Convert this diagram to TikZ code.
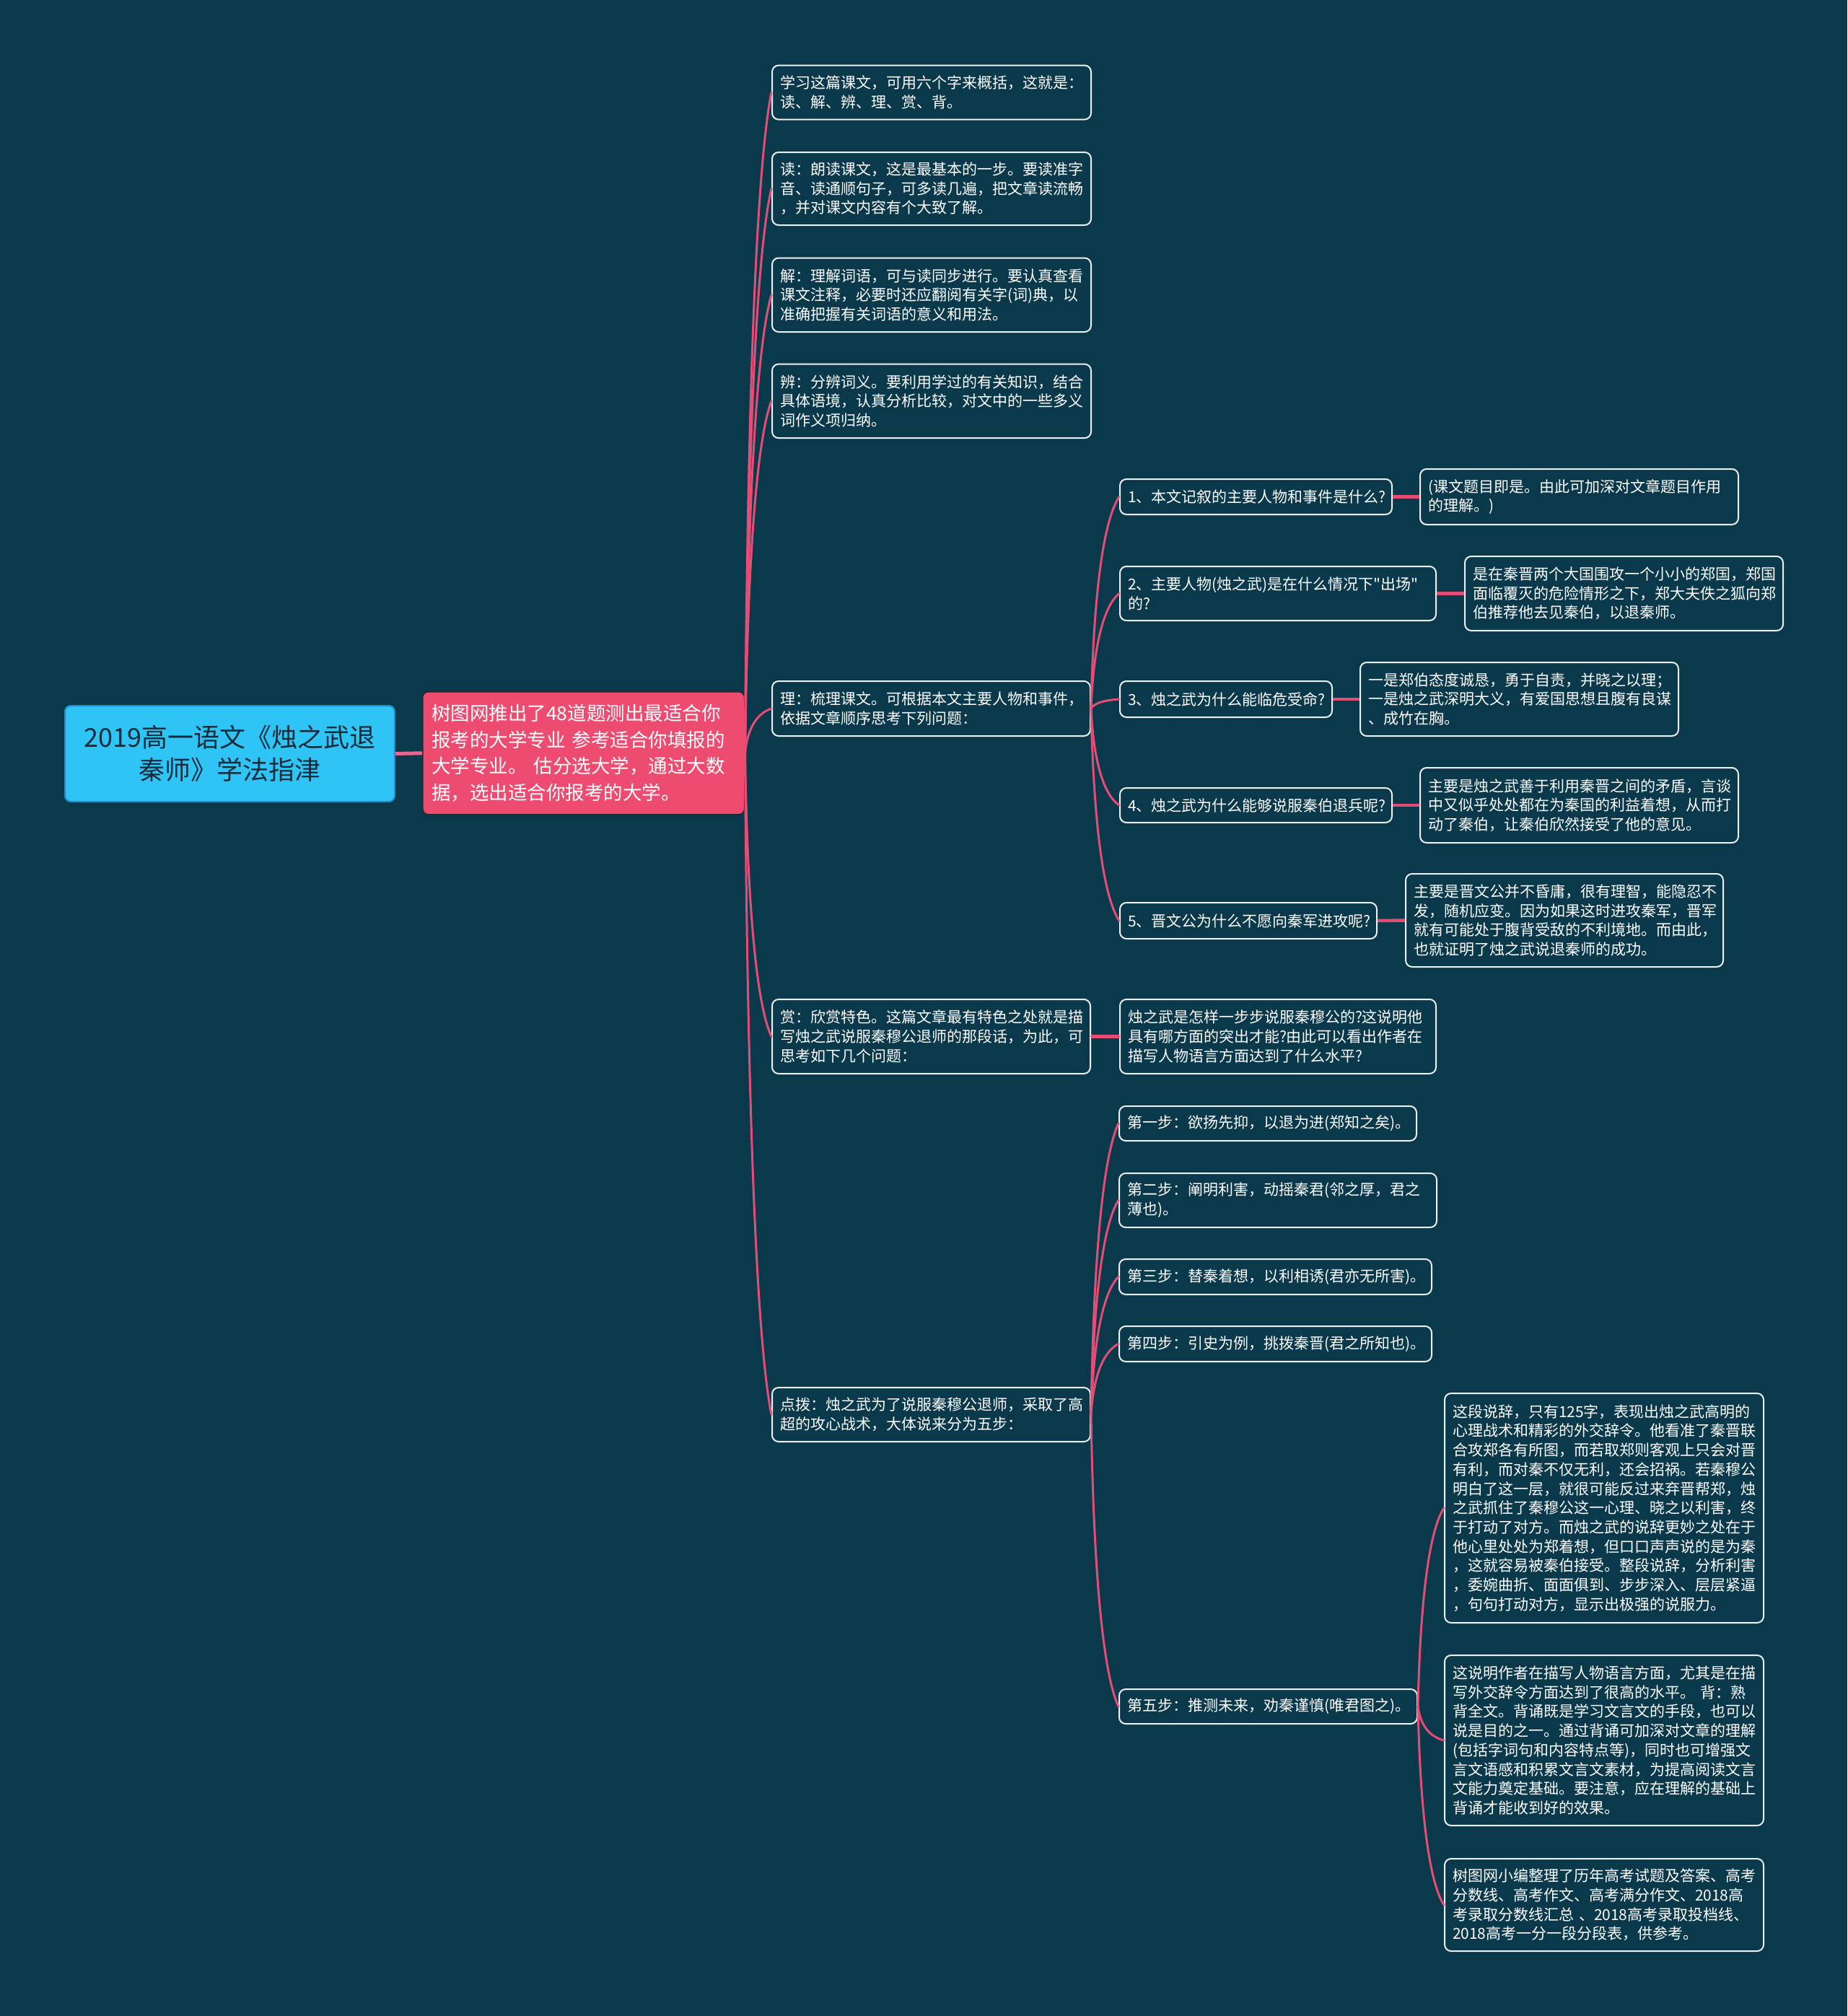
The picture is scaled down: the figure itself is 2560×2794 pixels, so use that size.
\documentclass[tikz,border=0pt]{standalone}
\usepackage{fontspec}
\setmainfont{Noto Sans CJK SC}
\newfontfamily\plainq{Noto Sans CJK SC}
\usetikzlibrary{calc}
\definecolor{bg}{RGB}{10,57,76}
\definecolor{leafline}{RGB}{236,240,242}
\definecolor{connc}{RGB}{228,77,118}
\definecolor{rootfill}{RGB}{46,196,245}
\definecolor{rootline}{RGB}{30,140,210}
\definecolor{roottext}{RGB}{22,44,58}
\definecolor{pinkfill}{RGB}{238,75,112}
\tikzset{
  leafbox/.style={draw=leafline, line width=2pt, rounded corners=9pt, text=white,
    font=\fontsize{21pt}{26.7pt}\selectfont, align=left, inner xsep=11pt, inner ysep=0pt,
    anchor=north west},
  conn/.style={draw=connc, line width=3pt, line cap=round},
  bar/.style={draw=connc, line width=4.5pt},
}
\newcommand\mmnode[6]{%
  \pgfmathsetmacro\mmtw{#4-22}%
  \node[leafbox, minimum width=#4pt, minimum height=#5pt, text width=\mmtw pt] (#1) at (#2,#3) {#6};}
\newcommand\cc[2]{%
  \draw[conn] let \p1=(#1.east), \p2=(#2.west) in
   (\p1) .. controls (\x1*0.9+\x2*0.1, \y1*0.4+\y2*0.6) and (\x2*0.5+\x1*0.5, \y2*0.9+\y1*0.1) .. (\p2);}
\begin{document}
\begin{tikzpicture}[x=1pt,y=-1pt]
\fill[bg] (0,0) rectangle (2560,2794);
\useasboundingbox (0,0) rectangle (2560,2794);

% root
\node[draw=rootline, line width=2pt, fill=rootfill, rounded corners=8pt, anchor=north west,
  minimum width=457pt, minimum height=133pt, text=roottext, align=center,
  font=\fontsize{36pt}{45pt}\selectfont] (root) at (89,977)
  {2019高一语文《烛之武退\\秦师》学法指津};

% pink
\node[draw=black!85, line width=1.5pt, fill=pinkfill, rounded corners=8pt, anchor=north west,
  minimum width=446pt, minimum height=170pt, text width=421pt, inner xsep=12.5pt, inner ysep=0pt,
  text=white, align=left, font=\fontsize{26.5pt}{36.7pt}\selectfont] (pink) at (585,958)
  {树图网推出了48道题测出最适合你\\报考的大学专业 参考适合你填报的\\大学专业。 估分选大学，通过大数\\据，选出适合你报考的大学。};

% level 2
\mmnode{n1}{1069}{89.6}{442}{75}{学习这篇课文，可用六个字来概括，这就是：\\读、解、辨、理、赏、背。}
\mmnode{n2}{1069}{210}{442}{101}{读：朗读课文，这是最基本的一步。要读准字\\音、读通顺句子，可多读几遍，把文章读流畅\\，并对课文内容有个大致了解。}
\mmnode{n3}{1069}{356.5}{442}{102.5}{解：理解词语，可与读同步进行。要认真查看\\课文注释，必要时还应翻阅有关字(词)典，以\\准确把握有关词语的意义和用法。}
\mmnode{n4}{1069}{503.6}{442}{102.5}{辨：分辨词义。要利用学过的有关知识，结合\\具体语境，认真分析比较，对文中的一些多义\\词作义项归纳。}
\mmnode{n5}{1069}{943}{441}{76}{理：梳理课文。可根据本文主要人物和事件，\\依据文章顺序思考下列问题：}
\mmnode{n6}{1069}{1384}{441}{103}{赏：欣赏特色。这篇文章最有特色之处就是描\\写烛之武说服秦穆公退师的那段话，为此，可\\思考如下几个问题：}
\mmnode{n7}{1069}{1922}{441}{75}{点拨：烛之武为了说服秦穆公退师，采取了高\\超的攻心战术，大体说来分为五步：}

% 理 children
\mmnode{q1}{1551}{663}{377}{49}{1、本文记叙的主要人物和事件是什么?}
\mmnode{a1}{1967}{649}{441}{77}{(课文题目即是。由此可加深对文章题目作用\\的理解。)}
\mmnode{q2}{1551}{784}{438}{75}{2、主要人物(烛之武)是在什么情况下{\plainq"}出场{\plainq"}\\的?}
\mmnode{a2}{2029}{770}{441}{103}{是在秦晋两个大国围攻一个小小的郑国，郑国\\面临覆灭的危险情形之下，郑大夫佚之狐向郑\\伯推荐他去见秦伯，以退秦师。}
\mmnode{q3}{1551}{943}{294}{50}{3、烛之武为什么能临危受命?}
\mmnode{a3}{1884}{917}{441}{102}{一是郑伯态度诚恳，勇于自责，并晓之以理；\\一是烛之武深明大义，有爱国思想且腹有良谋\\、成竹在胸。}
\mmnode{q4}{1551}{1091}{377}{48}{4、烛之武为什么能够说服秦伯退兵呢?}
\mmnode{a4}{1967}{1063}{441}{104}{主要是烛之武善于利用秦晋之间的矛盾，言谈\\中又似乎处处都在为秦国的利益着想，从而打\\动了秦伯，让秦伯欣然接受了他的意见。}
\mmnode{q5}{1551}{1250}{356}{50}{5、晋文公为什么不愿向秦军进攻呢?}
\mmnode{a5}{1947}{1210}{440}{129}{主要是晋文公并不昏庸，很有理智，能隐忍不\\发，随机应变。因为如果这时进攻秦军，晋军\\就有可能处于腹背受敌的不利境地。而由此，\\也就证明了烛之武说退秦师的成功。}

% 赏 child
\mmnode{r6}{1551}{1384}{438}{103}{烛之武是怎样一步步说服秦穆公的?这说明他\\具有哪方面的突出才能?由此可以看出作者在\\描写人物语言方面达到了什么水平?}

% 点拨 children
\mmnode{s1}{1550}{1532}{412}{48}{第一步：欲扬先抑，以退为进(郑知之矣)。}
\mmnode{s2}{1550}{1625}{440}{75}{第二步：阐明利害，动摇秦君(邻之厚，君之\\薄也)。}
\mmnode{s3}{1550}{1744}{433}{49}{第三步：替秦着想，以利相诱(君亦无所害)。}
\mmnode{s4}{1550}{1837}{433}{49}{第四步：引史为例，挑拨秦晋(君之所知也)。}
\mmnode{s5}{1550}{2340}{413}{48}{第五步：推测未来，劝秦谨慎(唯君图之)。}

% 第五步 children
\mmnode{c1}{2001}{1930}{442}{318}{这段说辞，只有125字，表现出烛之武高明的\\心理战术和精彩的外交辞令。他看准了秦晋联\\合攻郑各有所图，而若取郑则客观上只会对晋\\有利，而对秦不仅无利，还会招祸。若秦穆公\\明白了这一层，就很可能反过来弃晋帮郑，烛\\之武抓住了秦穆公这一心理、晓之以利害，终\\于打动了对方。而烛之武的说辞更妙之处在于\\他心里处处为郑着想，但口口声声说的是为秦\\，这就容易被秦伯接受。整段说辞，分析利害\\，委婉曲折、面面俱到、步步深入、层层紧逼\\，句句打动对方，显示出极强的说服力。}
\mmnode{c2}{2001}{2293}{442}{236}{这说明作者在描写人物语言方面，尤其是在描\\写外交辞令方面达到了很高的水平。 背：熟\\背全文。背诵既是学习文言文的手段，也可以\\说是目的之一。通过背诵可加深对文章的理解\\(包括字词句和内容特点等)，同时也可增强文\\言文语感和积累文言文素材，为提高阅读文言\\文能力奠定基础。要注意，应在理解的基础上\\背诵才能收到好的效果。}
\mmnode{c3}{2001}{2575}{442}{128}{树图网小编整理了历年高考试题及答案、高考\\分数线、高考作文、高考满分作文、2018高\\考录取分数线汇总 、2018高考录取投档线、\\2018高考一分一段分段表，供参考。}

% connectors
\draw[connc!85!white, line width=5pt] (root.east) -- (pink.west);
\foreach \c in {n1,n2,n3,n4,n5,n6,n7} {\cc{pink}{\c}}
\foreach \c in {q1,q2,q3,q4,q5} {\cc{n5}{\c}}
\cc{n6}{r6}
\foreach \c in {s1,s2,s3,s4,s5} {\cc{n7}{\c}}
\foreach \c in {c1,c2,c3} {\cc{s5}{\c}}
\draw[bar] (q1.east) -- (a1.west);
\draw[bar] (q2.east) -- (a2.west);
\draw[bar] (q3.east) -- (a3.west);
\draw[bar] (q4.east) -- (a4.west);
\draw[bar] (q5.east) -- (a5.west);
\draw[bar] (n6.east) -- (r6.west);
\end{tikzpicture}
\end{document}
